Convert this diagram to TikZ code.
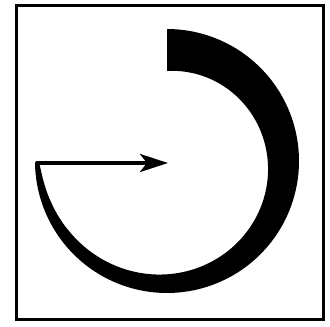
\documentclass[tikz,border=0pt]{standalone}
\usepackage{tikz}
\usetikzlibrary{arrows.meta,calc}
\tikzset{
  frame/.style={
    line width=3.5pt,
  },
  band/.style={
   fill=black,
   draw=none,
  },
  pointer/.style={
    line width=4pt,
    line cap=round,
    -{Stealth[length=28pt,width=18pt,inset=7pt]},
  }
}

\begin{document}
\begin{tikzpicture}[x=1pt,y=-1pt]
        \useasboundingbox (0,0) rectangle (330,327);
        \draw[frame] (16.5,5.5) rectangle (323.5,319.5);
        \coordinate (centre) at (167,163);
        \coordinate (start) at (37,163);
        %\fill[red] (centre) circle (2);
        \fill[band] plot[domain=90:-180,samples=120,variable=\t]
              ({167+(132+2*sin(\t))*cos(\t)},{163-(132+2*sin(\t))*sin(\t)})
          -- plot[domain=-179.5:90,samples=120,variable=\t]
              ({167+(128-36*pow((\t+180)/270,0.7))*cos(\t)},{163-(128-36*pow((\t+180)/270,0.7))*sin(\t)})
          -- cycle;
        \draw[pointer] (start) -- ($(centre)+(1,0)$);
\end{tikzpicture}
\end{document}
